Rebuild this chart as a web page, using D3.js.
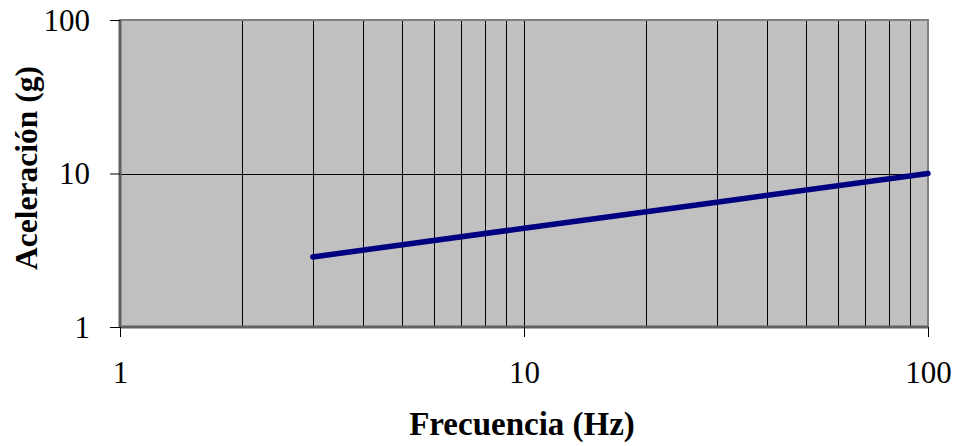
<!DOCTYPE html>
<html><head><meta charset="utf-8">
<script src="https://cdn.jsdelivr.net/npm/d3@7"></script>
<style>body{margin:0;background:#fff}svg{display:block}</style>
</head><body>
<svg id="c" width="957" height="446"></svg>
<script>
const frequency = [3, 10, 30, 100];
const acceleration = [2.86, 4.4, 6.5, 10];
const xTickLabels = [1, 10, 100];
const yTickLabels = [1, 10, 100];
const xGrid = [2,3,4,5,6,7,8,9,10,20,30,40,50,60,70,80,90];
const yGrid = [10];

const svg = d3.select("#c");
const L = 120, R = 928, T = 20, B = 327;
const x = d3.scaleLog().domain([1, 100]).range([L, R]);
const y = d3.scaleLog().domain([1, 100]).range([B, T]);
const font = "'Liberation Serif','Times New Roman',serif";

svg.append("rect").attr("x", L).attr("y", T).attr("width", R - L).attr("height", B - T).attr("fill", "#c0c0c0");

svg.append("g").selectAll("line").data(xGrid).join("line")
  .attr("x1", d => Math.round(x(d)) + 0.5).attr("x2", d => Math.round(x(d)) + 0.5)
  .attr("y1", T).attr("y2", B).attr("stroke", "#000").attr("stroke-width", 1);
svg.append("g").selectAll("line").data(yGrid).join("line")
  .attr("x1", L).attr("x2", R)
  .attr("y1", d => Math.round(y(d)) + 0.5).attr("y2", d => Math.round(y(d)) + 0.5)
  .attr("stroke", "#000").attr("stroke-width", 1);

// border
svg.append("rect").attr("x", L).attr("y", T).attr("width", R - L).attr("height", B - T)
  .attr("fill", "none").attr("stroke", "#808080").attr("stroke-width", 2);
svg.append("line").attr("x1", L).attr("x2", L).attr("y1", T).attr("y2", B + 1)
  .attr("stroke", "#606060").attr("stroke-width", 3);
svg.append("line").attr("x1", L).attr("x2", R).attr("y1", B).attr("y2", B)
  .attr("stroke", "#606060").attr("stroke-width", 3);

// axes
const yAxis = d3.axisLeft(y).tickValues(yTickLabels).tickFormat(d3.format("d")).tickSize(10).tickPadding(20);
const xAxis = d3.axisBottom(x).tickValues(xTickLabels).tickFormat(d3.format("d")).tickSize(10).tickPadding(20);
const gy = svg.append("g").attr("transform", `translate(${L},0)`).call(yAxis);
const gx = svg.append("g").attr("transform", `translate(0,${B})`).call(xAxis);
[gx, gy].forEach(g => {
  g.select(".domain").remove();
  g.selectAll(".tick line").attr("stroke", "#000");
  g.selectAll("text").attr("font-family", font).attr("font-size", 31).attr("fill", "#000");
});
gx.selectAll("text").attr("y", 56).attr("dy", 0);
gy.selectAll("text").attr("x", -30).attr("dy", "0.33em");

// line
svg.append("path").datum(frequency.map((f, i) => [f, acceleration[i]]))
  .attr("d", d3.line().x(d => x(d[0])).y(d => y(d[1])))
  .attr("fill", "none").attr("stroke", "#000080").attr("stroke-width", 5.5).attr("stroke-linecap", "round");

svg.append("text").attr("x", 522).attr("y", 435).attr("text-anchor", "middle")
  .attr("font-family", font).attr("font-weight", "bold").attr("font-size", 33).text("Frecuencia (Hz)");
svg.append("text").attr("transform", `translate(37,168) rotate(-90)`).attr("text-anchor", "middle")
  .attr("font-family", font).attr("font-weight", "bold").attr("font-size", 31.5).text("Aceleración (g)");
</script>
</body></html>
